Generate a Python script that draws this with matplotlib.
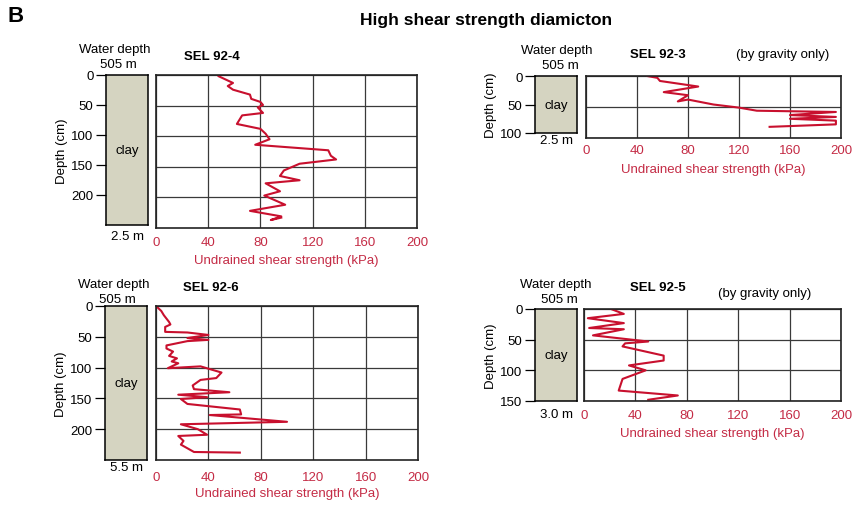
import numpy as np
import matplotlib
matplotlib.use('Agg')
from matplotlib import pyplot as plt

plt.rcParams['font.family'] = ['Liberation Sans', 'DejaVu Sans']

# SEL 92-4
d4 = [2, 6, 13, 18, 24, 32, 39, 44, 49, 53, 62, 66, 80, 88, 96, 105, 114,
      123, 132, 138, 145, 156, 165, 172, 177, 190, 197, 212, 222, 231, 237, 233]
s4 = [48, 52, 59, 55, 59, 72, 73, 80, 82, 78, 82, 66, 62, 80, 84, 87, 76,
      132, 134, 138, 110, 98, 95, 110, 84, 95, 83, 99, 72, 96, 88, 96]

# SEL 92-3
d3 = [0, 3, 8, 17, 26, 31, 41, 38, 46, 51, 56, 58, 63, 66, 69, 72, 78, 82]
s3 = [48, 56, 58, 88, 61, 80, 72, 80, 100, 120, 134, 196, 160, 196, 160, 196, 196, 144]

# SEL 92-6
d6 = [2, 8, 15, 26, 30, 34, 42, 43, 47, 52, 55, 57, 64, 69, 74, 81, 85, 90, 93,
      101, 98, 108, 117, 120, 129, 135, 140, 144, 148, 151, 159, 168, 176, 177,
      188, 192, 200, 209, 211, 219, 225, 237, 238]
s6 = [1, 4, 6, 10, 11, 7, 7, 24, 40, 24, 40, 24, 8, 8, 13, 10, 16, 12, 17,
      9, 34, 50, 46, 34, 28, 29, 56, 17, 39, 19, 24, 64, 65, 41,
      100, 19, 32, 39, 17, 21, 19, 29, 64]

# SEL 92-5
d5 = [0, 8, 15, 23, 31, 33, 43, 53, 56, 61, 76, 84, 92, 100, 114, 133, 141, 148]
s5 = [21, 31, 3, 31, 4, 31, 7, 50, 32, 30, 62, 62, 35, 48, 30, 27, 73, 50]

xticks = [0, 40, 80, 120, 160, 200]

RED = '#c8102e'
LBL = '#c42b45'
CLAY = '#d5d4c1'

W, H = 855, 506
fig = plt.figure(figsize=(W / 100, H / 100), dpi=100)


def box(x0, y0, x1, y1):
    return [x0 / W, 1 - y1 / H, (x1 - x0) / W, (y1 - y0) / H]


def ftext(x, y, s, **kw):
    kw.setdefault('ha', 'center')
    kw.setdefault('va', 'center')
    kw.setdefault('fontsize', 9)
    fig.text(x / W, 1 - y / H, s, **kw)


panels = [
    dict(name='SEL 92-4', d=d4, s=s4, ymax=250, yt=[0, 50, 100, 150, 200],
         ax=(156, 76, 417, 229), col=(106, 76, 148, 226), core='2.5 m',
         wx=115, wy=50, cy=237, tx=212, ty=57, pad=6, lab=261, grav=None),
    dict(name='SEL 92-3', d=d3, s=s3, ymax=100, yt=[0, 50, 100],
         ax=(586, 77, 841, 139), col=(535, 77, 577, 134), core='2.5 m',
         wx=557, wy=51, cy=141, tx=658, ty=55, pad=4, lab=170, grav=(783, 55)),
    dict(name='SEL 92-6', d=d6, s=s6, ymax=250, yt=[0, 50, 100, 150, 200],
         ax=(156, 307, 418, 461), col=(105, 307, 147, 461), core='5.5 m',
         wx=114, wy=285, cy=468, tx=211, ty=288, pad=8, lab=494, grav=None),
    dict(name='SEL 92-5', d=d5, s=s5, ymax=150, yt=[0, 50, 100, 150],
         ax=(584, 310, 841, 402), col=(535, 310, 577, 402), core='3.0 m',
         wx=556, wy=285, cy=415, tx=658, ty=288, pad=6, lab=434, grav=(765, 294)),
]

for p in panels:
    # clay column with depth scale
    c = fig.add_axes(box(*p['col']))
    c.set_facecolor(CLAY)
    c.set_ylim(p['ymax'], 0)
    c.set_yticks(p['yt'])
    c.set_xticks([])
    c.tick_params(axis='y', length=7, width=0.9, pad=2, labelsize=9.5)
    for sp in c.spines.values():
        sp.set_linewidth(1.1)
    c.text(0.5, 0.5, 'clay', transform=c.transAxes, ha='center', va='center', fontsize=9.5)
    c.set_ylabel('Depth (cm)', fontsize=9.5, labelpad=2)

    # strength profile
    ax = fig.add_axes(box(*p['ax']))
    ax.plot(p['s'], p['d'], color=RED, lw=1.5)
    ax.set_xlim(0, 200)
    ax.set_ylim(p['ymax'], 0)
    ax.set_xticks(xticks)
    ax.set_yticks(p['yt'])
    ax.grid(True, color='#3a3a3a', lw=0.9)
    ax.tick_params(length=0, labelleft=False, labelsize=9.5, labelcolor=LBL, pad=p['pad'])
    for sp in ax.spines.values():
        sp.set_linewidth(1.2)
        sp.set_color('#222222')
    lx = (p['ax'][0] + p['ax'][2]) / 2
    ftext(lx, p['lab'], 'Undrained shear strength (kPa)', color=LBL, fontsize=9.5)

    ftext(p['wx'], p['wy'], 'Water depth', fontsize=9.5)
    ftext(p['wx'] + 3, p['wy'] + 15, '505 m', fontsize=9.5)
    ftext((p['col'][0] + p['col'][2]) / 2, p['cy'], p['core'], fontsize=9.5)
    ftext(p['tx'], p['ty'], p['name'], fontsize=9.5, fontweight='bold')
    if p['grav']:
        ftext(p['grav'][0], p['grav'][1], '(by gravity only)', fontsize=9.5)

ftext(16, 16, 'B', fontsize=16, fontweight='bold')
ftext(486, 20, 'High shear strength diamicton', fontsize=12.5, fontweight='bold')

fig.savefig('out.png', dpi=100)
